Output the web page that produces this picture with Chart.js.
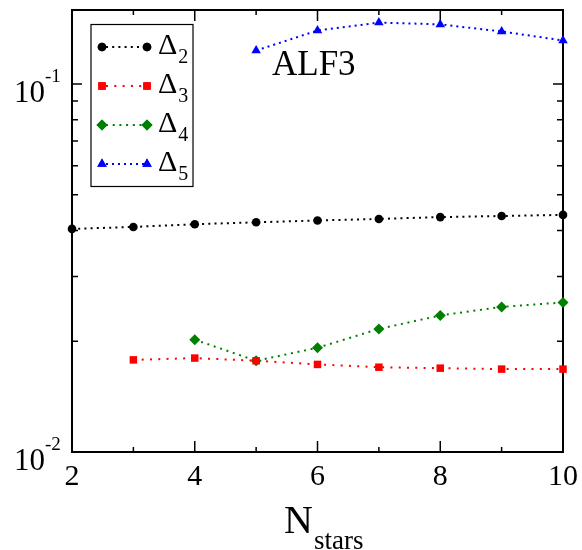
<!DOCTYPE html>
<html>
<head>
<meta charset="utf-8">
<script src="https://cdn.jsdelivr.net/npm/chart.js"></script>
<style>
  html, body { margin: 0; padding: 0; background: #fff; }
</style>
</head>
<body>
<canvas id="chart" width="582" height="550"></canvas>
<script>
// values
const nStars = [2, 3, 4, 5, 6, 7, 8, 9, 10]
const delta2 = [0.0404, 0.0409, 0.0416, 0.0421, 0.0426, 0.0430, 0.0435, 0.0438, 0.0441]
const delta3 = [null, 0.0178, 0.0180, 0.0177, 0.0173, 0.0170, 0.0169, 0.0168, 0.0168]
const delta4 = [null, null, 0.0202, 0.0177, 0.0192, 0.0216, 0.0235, 0.0248, 0.0255]
const delta5 = [null, null, null, 0.1234, 0.1398, 0.1470, 0.1453, 0.1390, 0.1314]

const xMajor = [2, 4, 6, 8, 10]
const xMinor = [3, 5, 7, 9]
const yMajor = [0.1, 0.01]
const yMajorExp = ['-1', '-2']
const yMinor = [0.02, 0.03, 0.04, 0.05, 0.06, 0.07, 0.08, 0.09]

const series = [
  { sub: '2', color: '#000000', shape: 'circle', radius: 4.3, dash: [2, 4.2], values: delta2 },
  { sub: '3', color: '#ff0000', shape: 'rect', radius: 5.3, dash: [2, 6.3], values: delta3 },
  { sub: '4', color: '#008000', shape: 'rectRot', radius: 5.5, dash: [2, 4.7], values: delta4 },
  { sub: '5', color: '#0000ff', shape: 'triangle', radius: 5.5, dash: [2, 4], values: delta5 }
]

const serif = '"Liberation Serif", "DejaVu Serif", serif'

function toPoints(values) {
  const pts = []
  values.forEach((v, i) => { if (v !== null) pts.push({ x: nStars[i], y: v }) })
  return pts
}

function marker(ctx, s, x, y) {
  ctx.fillStyle = s.color
  ctx.beginPath()
  Chart.helpers.drawPoint(ctx, { pointStyle: s.shape, radius: s.radius, rotation: 0, borderWidth: 0 }, x, y)
  ctx.fill()
}

const frame = {
  id: 'frame',
  beforeDatasetsDraw(chart) {
    const { ctx, chartArea: a, scales: { x, y } } = chart
    ctx.save()
    ctx.strokeStyle = '#000'
    ctx.lineWidth = 2
    ctx.strokeRect(a.left, a.top, a.right - a.left, a.bottom - a.top)

    ctx.lineWidth = 1.5
    ctx.beginPath()
    xMajor.forEach(v => {
      const px = x.getPixelForValue(v)
      ctx.moveTo(px, a.bottom); ctx.lineTo(px, a.bottom - 11)
      ctx.moveTo(px, a.top); ctx.lineTo(px, a.top + 11)
    })
    xMinor.forEach(v => {
      const px = x.getPixelForValue(v)
      ctx.moveTo(px, a.bottom); ctx.lineTo(px, a.bottom - 5)
      ctx.moveTo(px, a.top); ctx.lineTo(px, a.top + 5)
    })
    yMajor.forEach(v => {
      const py = y.getPixelForValue(v)
      ctx.moveTo(a.left, py); ctx.lineTo(a.left + 10, py)
      ctx.moveTo(a.right, py); ctx.lineTo(a.right - 10, py)
    })
    yMinor.forEach(v => {
      const py = y.getPixelForValue(v)
      ctx.moveTo(a.left, py); ctx.lineTo(a.left + 6, py)
      ctx.moveTo(a.right, py); ctx.lineTo(a.right - 6, py)
    })
    ctx.stroke()

    // tick labels
    ctx.fillStyle = '#000'
    ctx.textBaseline = 'alphabetic'
    ctx.font = '30px ' + serif
    ctx.textAlign = 'center'
    xMajor.forEach(v => ctx.fillText(String(v), x.getPixelForValue(v), a.bottom + 33))
    yMajor.forEach((v, i) => {
      const py = y.getPixelForValue(v)
      ctx.font = '31px ' + serif
      ctx.textAlign = 'right'
      ctx.fillText('10', 45, py + 18)
      ctx.font = '19px ' + serif
      ctx.textAlign = 'left'
      ctx.fillText(yMajorExp[i], 45, py - 2)
    })

    // axis title
    ctx.textAlign = 'left'
    ctx.font = '40px ' + serif
    ctx.fillText('N', 284, 533)
    ctx.font = '27px ' + serif
    ctx.fillText('stars', 314, 549)

    // panel label
    ctx.font = '35px ' + serif
    ctx.fillText('ALF3', 272, 75)
    ctx.restore()
  },
  afterDraw(chart) {
    const { ctx } = chart
    ctx.save()
    ctx.fillStyle = '#fff'
    ctx.fillRect(91, 24, 102, 163)
    ctx.strokeStyle = '#000'
    ctx.lineWidth = 1.2
    ctx.strokeRect(91, 24.5, 102, 162)
    series.forEach((s, i) => {
      const cy = 47 + i * 39
      ctx.strokeStyle = s.color
      ctx.lineWidth = 2
      ctx.setLineDash(s.dash)
      ctx.beginPath()
      ctx.moveTo(106, cy); ctx.lineTo(144, cy)
      ctx.stroke()
      ctx.setLineDash([])
      marker(ctx, s, 102, cy)
      marker(ctx, s, 147, cy)
      ctx.fillStyle = '#000'
      ctx.textAlign = 'left'
      ctx.font = '30px ' + serif
      ctx.fillText('\u0394', 158, cy + 7)
      const w = ctx.measureText('\u0394').width
      ctx.font = '20px ' + serif
      ctx.fillText(s.sub, 158 + w + 1, cy + 16)
    })
    ctx.restore()
  }
}

new Chart(document.getElementById('chart'), {
  type: 'line',
  data: {
    datasets: series.map(s => ({
      label: '\u0394' + s.sub,
      data: toPoints(s.values),
      borderColor: s.color,
      backgroundColor: s.color,
      borderWidth: 2,
      borderDash: s.dash,
      pointStyle: s.shape,
      pointRadius: s.radius,
      pointBorderWidth: 0,
      pointBackgroundColor: s.color,
      fill: false,
      tension: 0,
      clip: false
    }))
  },
  options: {
    responsive: false,
    animation: false,
    layout: { padding: { left: 72, right: 19, top: 10, bottom: 98 } },
    scales: {
      x: { type: 'linear', min: 2, max: 10, display: false },
      y: { type: 'logarithmic', min: 0.01, max: 0.159, display: false }
    },
    plugins: { legend: { display: false }, tooltip: { enabled: false } }
  },
  plugins: [frame]
})
</script>
</body>
</html>
